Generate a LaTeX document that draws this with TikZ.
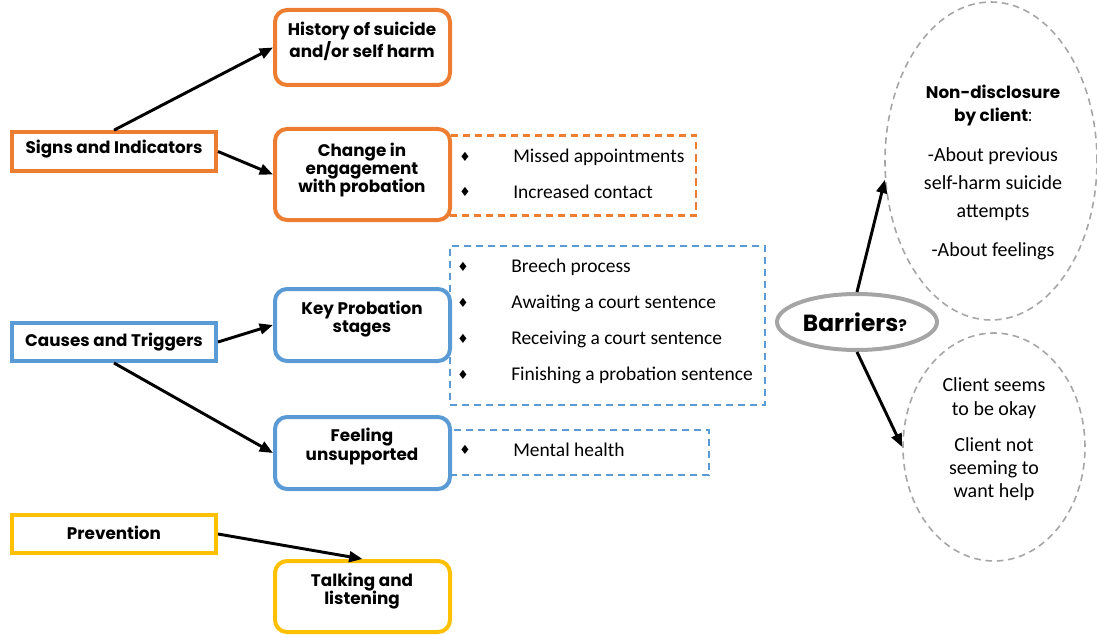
\documentclass[tikz,border=0pt]{standalone}
\usepackage{fontspec}
\setmainfont{Carlito}
\newfontfamily\headfont{Poppins}
\newfontfamily\symfont{DejaVu Sans}
\usetikzlibrary{arrows.meta,shapes.geometric}
\definecolor{orng}{HTML}{ED7D31}
\definecolor{blu}{HTML}{5B9BD5}
\definecolor{yel}{HTML}{FFC000}
\definecolor{gry}{HTML}{A5A5A5}
\definecolor{dgry}{HTML}{A6A6A6}
\begin{document}
\begin{tikzpicture}[x=0.75pt,y=-0.75pt,
  topic/.style={draw=#1,line width=3pt,rectangle,inner sep=0pt,
    minimum width=153pt,minimum height=29pt},
  sub/.style={draw=#1,line width=3pt,rectangle,rounded corners=9pt,inner sep=0pt,
    minimum width=131.25pt},
  dbox/.style={draw=#1,line width=1.6pt,dash pattern=on 5.5pt off 3.5pt,inner sep=0pt},
  head/.style={font=\headfont\bfseries\fontsize{12.6}{13.6}\selectfont,align=center,inner sep=0pt,yshift=-1.5pt},
  body/.style={font=\fontsize{14.6}{16}\selectfont,anchor=west,inner sep=0pt},
  bul/.style={font=\symfont\fontsize{9.5}{10}\selectfont,inner sep=0pt},
  bubble/.style={draw=dgry,line width=1.2pt,dash pattern=on 5pt off 3.5pt,ellipse,inner sep=0pt},
  txt/.style={font=\fontsize{15}{21}\selectfont,align=center,inner sep=0pt},
  arr/.style={line width=2.2pt,-{Triangle[length=10pt,width=8pt]}}]
\useasboundingbox (0,0) rectangle (1097,635);

% left-hand topics
\node[topic=orng] (signs) at (114,151.5) {};
\node[topic=blu,minimum height=28.5pt] (causes) at (114,342) {};
\node[topic=yel,minimum height=28.5pt] (prev) at (114,534) {};
\node[head] (signs-t) at (114,147) {Signs and Indicators};
\node[head] (causes-t) at (114,340) {Causes and Triggers};
\node[head] (prev-t) at (114,531) {Prevention};

% dashed lists (drawn first so the rounded boxes sit on top)
\node[dbox=orng,minimum width=184.5pt,minimum height=60pt] (list1) at (573,175.5) {};
\node[dbox=blu,minimum width=236.25pt,minimum height=119.25pt] (list2) at (607.5,325.5) {};
\node[dbox=blu,minimum width=194.25pt,minimum height=33.75pt] (list3) at (579.5,452.5) {};

% second-level boxes
\node[sub=orng,minimum height=56.25pt,fill=white] (hist) at (362.5,47.5) {};
\node[sub=orng,minimum height=68.25pt,fill=white] (change) at (362.5,174.5) {};
\node[sub=blu,minimum height=54pt,fill=white] (key) at (362.5,325) {};
\node[sub=blu,minimum height=54pt,fill=white] (feel) at (362.5,453) {};
\node[sub=yel,minimum height=53.25pt,fill=white] (talk) at (362.5,596.5) {};
\node[head] (hist-t) at (362,39) {History of suicide\\and/or self harm};
\node[head] (change-t) at (362,168) {Change in\\engagement\\with probation};
\node[head] (key-t) at (362,317.5) {Key Probation\\stages};
\node[head] (feel-t) at (362,444.5) {Feeling\\unsupported};
\node[head] (talk-t) at (362,589) {Talking and\\listening};

% list items
\node[bul] (b1) at (465,157) {♦};
\node[body] (i1) at (513,157) {Missed appointments};
\node[bul] (b2) at (465,192) {♦};
\node[body] (i2) at (513,192) {Increased contact};
\node[bul] (b3) at (463,267) {♦};
\node[body] (i3) at (511,267) {Breech process};
\node[bul] (b4) at (463,303) {♦};
\node[body] (i4) at (511,303) {Awaiting a court sentence};
\node[bul] (b5) at (463,339) {♦};
\node[body] (i5) at (511,339) {Receiving a court sentence};
\node[bul] (b6) at (463,375) {♦};
\node[body] (i6) at (511,375) {Finishing a probation sentence};
\node[bul] (b7) at (465,450) {♦};
\node[body] (i7) at (513,450) {Mental health};

% barriers
\node[bubble,minimum width=159pt,minimum height=238.5pt] (up) at (991,161) {};
\node[bubble,minimum width=136.5pt,minimum height=171pt] (low) at (994,447) {};
\node[draw=gry,line width=3pt,ellipse,minimum width=120pt,minimum height=42pt,inner sep=0pt] (barr) at (857,322) {};
\node[inner sep=0pt] (barr-t) at (855,322) {{\headfont\bfseries\fontsize{17.5}{19}\selectfont Barriers}{\headfont\bfseries\fontsize{12}{12}\selectfont ?}};
\node[head,font=\headfont\bfseries\fontsize{12.6}{17.25}\selectfont] (nd-t) at (993,103.5) {Non-disclosure\\by client{\mdseries :}};
\node[txt] (nd1) at (993,184) {-About previous\\self-harm suicide\\attempts};
\node[txt] (nd2) at (993,251) {-About feelings};
\node[txt,font=\fontsize{15}{18}\selectfont] (ok1) at (994,398) {Client seems\\to be okay};
\node[txt,font=\fontsize{15}{17.5}\selectfont] (ok2) at (994,469) {Client not\\seeming to\\want help};

% connectors
\draw[arr] (signs.north) -- (hist.west);
\draw[arr] (signs.east) -- (change.west);
\draw[arr] (causes.east) -- (key.west);
\draw[arr] (causes.south) -- (feel.west);
\draw[arr] (prev.east) -- (talk.north);
\draw[arr] (barr.north) -- (up.190);
\draw[arr] (barr.south) -- (low.west);
\end{tikzpicture}
\end{document}
